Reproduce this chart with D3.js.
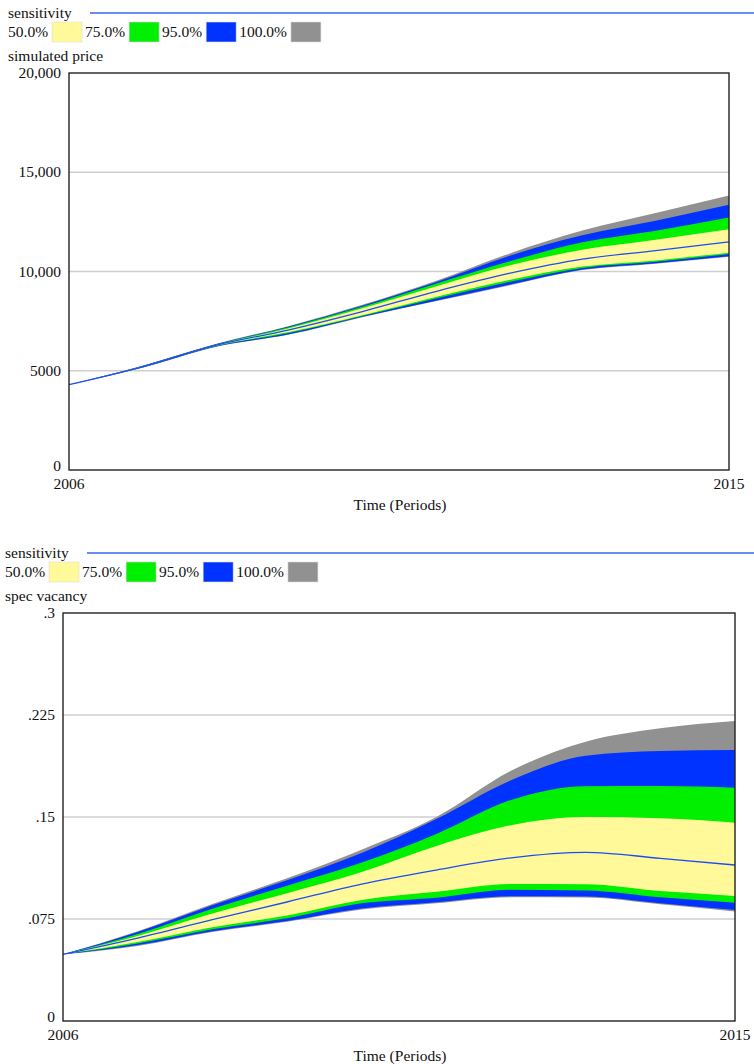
<!DOCTYPE html>
<html>
<head>
<meta charset="utf-8">
<script src="https://cdn.jsdelivr.net/npm/d3@7"></script>
<style>
body { margin: 0; background: #fff; }
</style>
</head>
<body>
<svg id="chart" width="754" height="1064" font-family="'Liberation Serif', Tinos, 'Times New Roman', Times, 'DejaVu Serif', serif" font-size="15.5"></svg>
<script>
// time axis
const years = [2006, 2007, 2008, 2009, 2010, 2011, 2012, 2013, 2014, 2015];

// simulated price - band edges per year
const price100Hi = [4300, 5250, 6350, 7260, 8320, 9520, 10900, 12060, 12950, 13830];
const price95Hi  = [4300, 5240, 6330, 7230, 8280, 9460, 10780, 11820, 12560, 13360];
const price75Hi  = [4300, 5220, 6310, 7190, 8220, 9380, 10500, 11470, 12050, 12720];
const price50Hi  = [4300, 5210, 6290, 7140, 8150, 9250, 10300, 11100, 11600, 12130];
const priceBase  = [4300, 5200, 6280, 7060, 7980, 8990, 9900, 10620, 11050, 11490];
const price50Lo  = [4300, 5190, 6260, 6950, 7800, 8720, 9570, 10250, 10560, 10950];
const price75Lo  = [4300, 5180, 6240, 6900, 7760, 8640, 9470, 10180, 10490, 10880];
const price95Lo  = [4300, 5160, 6220, 6840, 7720, 8530, 9330, 10100, 10420, 10770];
const price100Lo = [4300, 5150, 6200, 6820, 7700, 8500, 9300, 10070, 10390, 10740];

// spec vacancy - band edges per year
const vac100Hi = [0.049, 0.066, 0.086, 0.105, 0.126, 0.150, 0.184, 0.2053, 0.2152, 0.2206];
const vac95Hi  = [0.049, 0.0655, 0.0852, 0.1035, 0.1235, 0.1485, 0.177, 0.195, 0.1985, 0.1993];
const vac75Hi  = [0.049, 0.064, 0.0825, 0.0995, 0.1165, 0.1375, 0.1625, 0.1727, 0.1728, 0.1715];
const vac50Hi  = [0.049, 0.0625, 0.079, 0.094, 0.1095, 0.1287, 0.144, 0.150, 0.149, 0.1458];
const vacBase  = [0.049, 0.061, 0.0745, 0.0875, 0.1007, 0.111, 0.120, 0.124, 0.1196, 0.1147];
const vac50Lo  = [0.049, 0.058, 0.069, 0.0775, 0.089, 0.095, 0.1007, 0.1005, 0.0955, 0.092];
const vac75Lo  = [0.049, 0.057, 0.0675, 0.0755, 0.0865, 0.0907, 0.0965, 0.096, 0.091, 0.087];
const vac95Lo  = [0.049, 0.0558, 0.066, 0.0735, 0.0828, 0.0873, 0.0918, 0.0915, 0.0866, 0.0816];
const vac100Lo = [0.049, 0.0552, 0.0655, 0.073, 0.082, 0.0865, 0.091, 0.0908, 0.0858, 0.0806];

// legend / tick labels
const bandLabels = ['50.0%', '75.0%', '95.0%', '100.0%'];
const bandColors = ['#fff99a', '#00f000', '#0033ff', '#919191'];
const priceTicks = [0, 5000, 10000, 15000, 20000];
const vacTicks = [0, 0.075, 0.15, 0.225, 0.3];

const svg = d3.select('#chart');

function drawChart(cfg) {
    const g = svg.append('g').attr('transform', `translate(0,${cfg.offset})`).attr('fill', '#111');

    // legend
    g.append('text').attr('x', cfg.x0).attr('y', 18).text('sensitivity');
    g.append('line')
        .attr('x1', cfg.x0 + 82).attr('x2', 754)
        .attr('y1', 13).attr('y2', 13)
        .attr('stroke', '#3a66f0').attr('stroke-width', 1.5);

    let lx = cfg.x0;
    bandLabels.forEach((lab, i) => {
        const t = g.append('text').attr('x', lx).attr('y', 37).text(lab);
        lx += t.node().getComputedTextLength() + 4;
        g.append('rect')
            .attr('x', lx).attr('y', 22)
            .attr('width', 30).attr('height', 20)
            .attr('fill', bandColors[i])
            .attr('stroke', '#ddd').attr('stroke-width', 0.6);
        lx += 33;
    });

    g.append('text').attr('x', cfg.x0).attr('y', 61).text(cfg.title);

    // scales
    const x = d3.scaleLinear().domain([2006, 2015]).range([cfg.left, cfg.right]);
    const y = d3.scaleLinear().domain(cfg.domain).range([cfg.yBot - cfg.offset, cfg.yTop - cfg.offset]);

    // grid
    g.selectAll('.grid')
        .data(cfg.ticks.slice(1, -1))
        .enter()
        .append('line')
        .attr('x1', cfg.left).attr('x2', cfg.right)
        .attr('y1', d => y(d)).attr('y2', d => y(d))
        .attr('stroke', '#cfcfcf').attr('stroke-width', 1.5);

    // bands
    const bands = [
        [cfg.lo[3], cfg.hi[3], bandColors[3]],
        [cfg.lo[2], cfg.hi[2], bandColors[2]],
        [cfg.lo[1], cfg.hi[1], bandColors[1]],
        [cfg.lo[0], cfg.hi[0], bandColors[0]]
    ];
    const area = d3.area()
        .x(d => x(d.t))
        .y0(d => y(d.lo))
        .y1(d => y(d.hi))
        .curve(d3.curveMonotoneX);

    bands.forEach(b => {
        const rows = years.map((t, i) => ({ t: t, lo: b[0][i], hi: b[1][i] }));
        g.append('path').datum(rows).attr('d', area).attr('fill', b[2]);
    });

    // base run line
    const line = d3.line()
        .x((d, i) => x(years[i]))
        .y(d => y(d))
        .curve(d3.curveMonotoneX);
    g.append('path').datum(cfg.base)
        .attr('d', line)
        .attr('fill', 'none')
        .attr('stroke', '#1d4cf5')
        .attr('stroke-width', 1.3);

    // frame
    g.append('rect')
        .attr('x', cfg.left).attr('y', y(cfg.domain[1]))
        .attr('width', cfg.right - cfg.left)
        .attr('height', y(cfg.domain[0]) - y(cfg.domain[1]))
        .attr('fill', 'none')
        .attr('stroke', '#222').attr('stroke-width', 1.4);

    // y tick labels
    g.selectAll('.ylab')
        .data(cfg.ticks)
        .enter()
        .append('text')
        .attr('x', cfg.left - 8)
        .attr('y', d => y(d))
        .attr('dy', d => d === 0 ? '0.05em' : '0.33em')
        .attr('text-anchor', 'end')
        .text(cfg.fmt);

    // x tick labels
    g.selectAll('.xlab')
        .data([2006, 2015])
        .enter()
        .append('text')
        .attr('x', d => x(d))
        .attr('y', y(cfg.domain[0]) + 19)
        .attr('text-anchor', 'middle')
        .text(d => d);

    g.append('text')
        .attr('x', 400)
        .attr('y', y(cfg.domain[0]) + 39.5)
        .attr('text-anchor', 'middle')
        .text('Time (Periods)');
}

drawChart({
    offset: 0, x0: 8, title: 'simulated price',
    left: 69, right: 729, yTop: 73, yBot: 470,
    domain: [0, 20000], ticks: priceTicks,
    fmt: d => d >= 10000 ? d3.format(',')(d) : String(d),
    hi: [price50Hi, price75Hi, price95Hi, price100Hi],
    lo: [price50Lo, price75Lo, price95Lo, price100Lo],
    base: priceBase
});

drawChart({
    offset: 540, x0: 5, title: 'spec vacancy',
    left: 63, right: 735, yTop: 613, yBot: 1021,
    domain: [0, 0.3], ticks: vacTicks,
    fmt: d => String(d).replace(/^0\./, '.'),
    hi: [vac50Hi, vac75Hi, vac95Hi, vac100Hi],
    lo: [vac50Lo, vac75Lo, vac95Lo, vac100Lo],
    base: vacBase
});
</script>
</body>
</html>
